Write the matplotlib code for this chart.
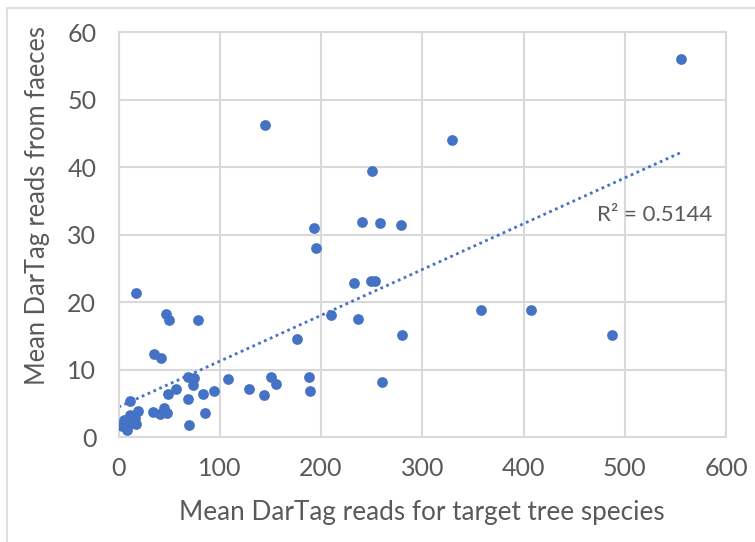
import numpy as np
import matplotlib.pyplot as plt
from matplotlib.patches import Rectangle

# mean reads for target tree species (x) vs mean reads from faeces (y)
tree_reads = [556, 329, 357.7, 407.7, 487, 144.7, 250.7, 193.1, 240.5, 258.3,
              278.7, 195.1, 232.6, 249.4, 253.3, 209.9, 236.9, 280, 176.3, 150.6,
              155.3, 128.9, 144, 188.1, 189.4, 260, 17.3, 46.6, 49.6, 78.5,
              35.4, 42, 68.3, 74.9, 73.3, 56.5, 48.6, 83.5, 94.6, 108.4,
              68.6, 11.4, 19, 34.4, 41, 45.3, 47.6, 85.7, 69.9, 17.3,
              3, 8, 6.4, 13, 16.3, 11.4, 5]
faeces_reads = [56.0, 44.0, 18.8, 18.9, 15.1, 46.3, 39.4, 31.0, 31.9, 31.8,
                31.4, 28.0, 22.9, 23.1, 23.2, 18.1, 17.5, 15.2, 14.6, 8.9,
                7.9, 7.1, 6.3, 9.0, 6.9, 8.2, 21.4, 18.3, 17.4, 17.4,
                12.3, 11.8, 9.0, 8.8, 7.8, 7.2, 6.4, 6.4, 6.9, 8.6,
                5.6, 5.4, 3.9, 3.7, 3.4, 4.3, 3.6, 3.6, 1.8, 1.9,
                1.6, 1.1, 2.3, 2.1, 2.8, 3.3, 2.6]
r2_label = 'R\u00b2 = 0.5144'
x_ticks = [0, 100, 200, 300, 400, 500, 600]
y_ticks = [0, 10, 20, 30, 40, 50, 60]

plt.rcParams['font.family'] = ['Lato', 'DejaVu Sans']
blue = '#4472C4'
grey_text = '#595959'

fig = plt.figure(figsize=(7.55, 5.42), dpi=100)
# chart area border (Excel style)
fig.patches.append(Rectangle((7 / 755, -0.1), 1.2, 1.1 - 8 / 542,
                             transform=fig.transFigure, fill=False,
                             edgecolor='#D9D9D9', linewidth=1.2))
ax = fig.add_axes([0.157, 0.1932, 0.8046, 0.7472])

x = np.array(tree_reads)
y = np.array(faeces_reads)
ax.scatter(x, y, s=60, color=blue, zorder=3, linewidths=0)

# linear trendline
slope, icpt = np.polyfit(x, y, 1)
xl = np.array([0, x.max()])
ax.plot(xl, slope * xl + icpt, linestyle=(0, (1, 1.3)), color=blue,
        linewidth=2, zorder=2)
ax.text(473, 32.9, r2_label, fontsize=16, color=grey_text,
        va='center', ha='left')

ax.set_xlim(0, 600)
ax.set_ylim(0, 60)
ax.set_xticks(x_ticks)
ax.set_yticks(y_ticks)
ax.grid(True, color='#D9D9D9', linewidth=1.5)
ax.set_axisbelow(True)
for sp in ax.spines.values():
    sp.set_color('#D9D9D9')
    sp.set_linewidth(1.5)
ax.tick_params(length=0, labelsize=18, colors=grey_text)
ax.tick_params(axis='x', pad=14)
ax.tick_params(axis='y', pad=16)
ax.set_xlabel('Mean DarTag reads for target tree species', fontsize=18.8,
              color=grey_text)
ax.set_ylabel('Mean DarTag reads from faeces', fontsize=18.4,
              color=grey_text)
ax.xaxis.set_label_coords(0.5, -0.155)
ax.yaxis.set_label_coords(-0.112, 0.572)

plt.savefig('out.png', dpi=100)
